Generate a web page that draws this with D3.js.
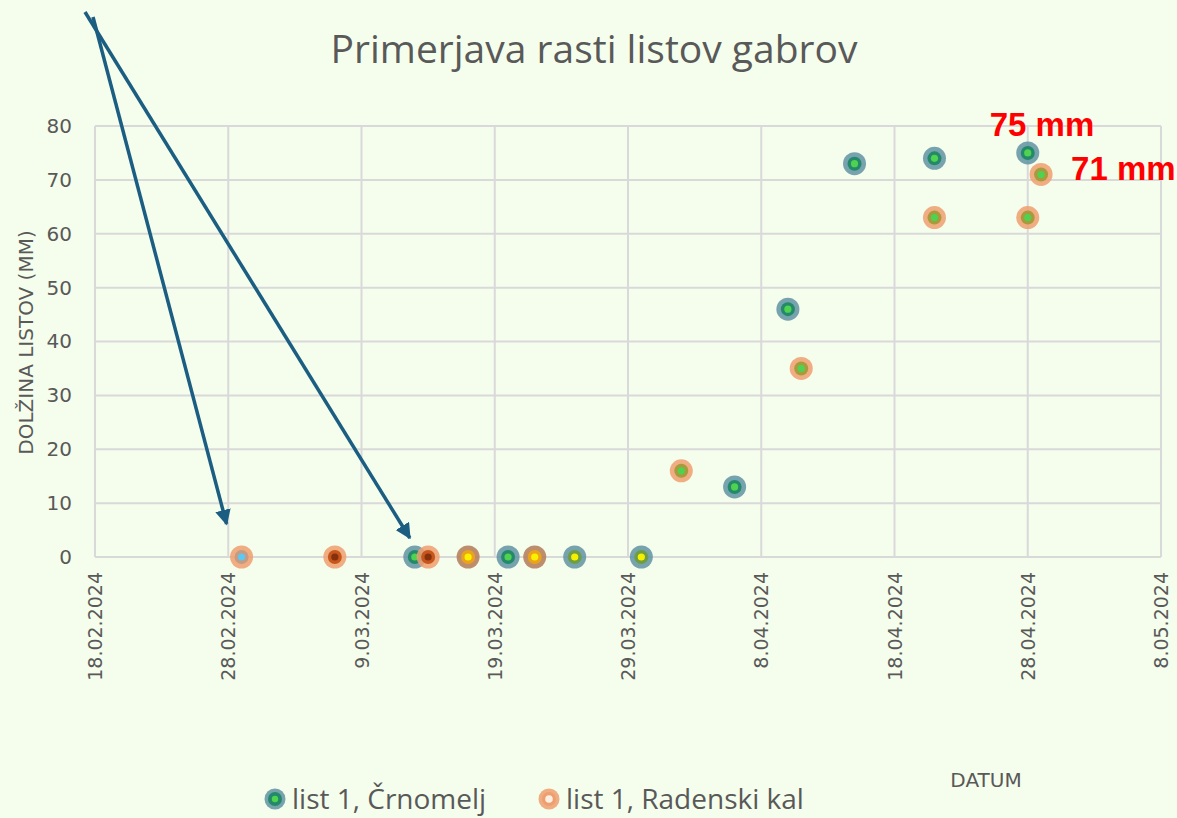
<!DOCTYPE html>
<html>
<head>
<meta charset="utf-8">
<script src="https://cdn.jsdelivr.net/npm/d3@7"></script>
<style>
  html, body { margin: 0; padding: 0; background: #f5fdec; }
  svg { display: block; }
</style>
</head>
<body>
<div id="chart"></div>
<script>
// Data
const title = "Primerjava rasti listov gabrov"
const yTitle = "DOLŽINA LISTOV (MM)"
const xTitle = "DATUM"

const xTicks = ["2024-02-18", "2024-02-28", "2024-03-09", "2024-03-19", "2024-03-29",
                "2024-04-08", "2024-04-18", "2024-04-28", "2024-05-08"]
const yTicks = [0, 10, 20, 30, 40, 50, 60, 70, 80]

const crnName = "list 1, Črnomelj"
const crnDates = ["2024-03-13", "2024-03-20", "2024-03-25", "2024-03-30", "2024-04-06",
                  "2024-04-10", "2024-04-15", "2024-04-21", "2024-04-28"]
const crnValues = [0, 0, 0, 0, 13, 46, 73, 74, 75]
const crnStage = ["leaf", "leaf", "flower", "flower", "leaf", "leaf", "leaf", "leaf", "leaf"]

const radName = "list 1, Radenski kal"
const radDates = ["2024-02-29", "2024-03-07", "2024-03-14", "2024-03-17", "2024-03-22",
                  "2024-04-02", "2024-04-11", "2024-04-21", "2024-04-28", "2024-04-29"]
const radValues = [0, 0, 0, 0, 0, 16, 35, 63, 63, 71]
const radStage = ["bud", "dormant", "dormant", "flower", "flower", "leaf", "leaf", "leaf", "leaf", "leaf"]

const labels = [
  { series: "crn", index: 8, text: "75 mm", dx: -38, dy: -17 },
  { series: "rad", index: 9, text: "71 mm", dx: 30, dy: 6 },
]

const width = 1177
const height = 818
const margin = { top: 126, right: 16, bottom: 261, left: 95 }

const parse = d3.utcParse("%Y-%m-%d")
const fmt = d3.utcFormat("%-d.%m.%Y")

// marker palettes: [outer ring, inner disc, centre dot]
const crnColors = {
  leaf:   ["#5f93a3", "#24896a", "#4fd250"],
  flower: ["#5f93a3", "#6f9d45", "#f4f000"],
}
const radColors = {
  bud:     ["#ee9f70", "#c59b84", "#5cc9f2"],
  dormant: ["#ee9f70", "#c6561b", "#86300e"],
  flower:  ["#b27a58", "#eca31c", "#fbf000"],
  leaf:    ["#ee9f70", "#a99a3e", "#4fd250"],
}

const series = [
  { key: "crn", name: crnName, colors: crnColors,
    points: crnDates.map((d, i) => ({ date: parse(d), value: crnValues[i], stage: crnStage[i] })) },
  { key: "rad", name: radName, colors: radColors,
    points: radDates.map((d, i) => ({ date: parse(d), value: radValues[i], stage: radStage[i] })) },
]

const svg = d3.select("#chart").append("svg")
  .attr("width", width)
  .attr("height", height)
  .attr("viewBox", [0, 0, width, height])

svg.append("rect").attr("width", width).attr("height", height).attr("fill", "#f5fdec")

const x = d3.scaleUtc()
  .domain([parse(xTicks[0]), parse(xTicks[xTicks.length - 1])])
  .range([margin.left, width - margin.right])

const y = d3.scaleLinear()
  .domain([0, 80])
  .range([height - margin.bottom, margin.top])

const grey = "#d9d9d9"
const textColor = "#595959"

// grid
svg.append("g")
  .selectAll("line")
  .data(yTicks)
  .join("line")
    .attr("x1", x.range()[0]).attr("x2", x.range()[1])
    .attr("y1", d => y(d)).attr("y2", d => y(d))
    .attr("stroke", grey).attr("stroke-width", 2)

svg.append("g")
  .selectAll("line")
  .data(xTicks.map(parse))
  .join("line")
    .attr("x1", d => x(d)).attr("x2", d => x(d))
    .attr("y1", y(0)).attr("y2", y(80))
    .attr("stroke", grey).attr("stroke-width", 2)

// y axis
const yAxis = svg.append("g")
  .attr("transform", `translate(${margin.left},0)`)
  .call(d3.axisLeft(y).tickValues(yTicks).tickSize(0).tickPadding(23))
yAxis.select(".domain").remove()
yAxis.selectAll("text")
  .attr("fill", textColor)
  .attr("font-family", "DejaVu Sans, sans-serif")
  .attr("font-size", 20)

// x axis
const xAxis = svg.append("g")
  .attr("transform", `translate(0,${y(0)})`)
  .call(d3.axisBottom(x).tickValues(xTicks.map(parse)).tickFormat(fmt).tickSize(0))
xAxis.select(".domain").remove()
xAxis.selectAll("text")
  .attr("fill", textColor)
  .attr("font-family", "DejaVu Sans, sans-serif")
  .attr("font-size", 19)
  .attr("text-anchor", "end")
  .attr("transform", "rotate(-90)")
  .attr("x", -15)
  .attr("y", 0)
  .attr("dy", "0.35em")

// titles
svg.append("text")
  .attr("x", 594).attr("y", 63)
  .attr("text-anchor", "middle")
  .attr("fill", textColor)
  .attr("font-family", "Open Sans, sans-serif")
  .attr("font-size", 39)
  .text(title)

svg.append("text")
  .attr("transform", `translate(33,${(y(0) + y(80)) / 2 + 1}) rotate(-90)`)
  .attr("text-anchor", "middle")
  .attr("fill", textColor)
  .attr("font-family", "DejaVu Sans, sans-serif")
  .attr("font-size", 20)
  .text(yTitle)

svg.append("text")
  .attr("x", 986).attr("y", 787)
  .attr("text-anchor", "middle")
  .attr("fill", textColor)
  .attr("font-family", "DejaVu Sans, sans-serif")
  .attr("font-size", 20)
  .text(xTitle)

// markers
function drawMarker(g, c, r) {
  g.append("circle").attr("r", r[0]).attr("fill", c[0]).attr("fill-opacity", 0.85)
  g.append("circle").attr("r", r[1]).attr("fill", c[1])
  g.append("circle").attr("r", r[2]).attr("fill", c[2])
}

for (const s of series) {
  svg.append("g")
    .selectAll("g")
    .data(s.points)
    .join("g")
      .attr("transform", d => `translate(${x(d.date)},${y(d.value)})`)
      .each(function(d) { drawMarker(d3.select(this), s.colors[d.stage], [11.5, 7, 3.6]) })
}

// value labels
for (const l of labels) {
  const p = series.find(s => s.key === l.series).points[l.index]
  svg.append("text")
    .attr("x", x(p.date) + l.dx)
    .attr("y", y(p.value) + l.dy)
    .attr("fill", "#ff0000")
    .attr("font-family", "Liberation Sans, Arial, sans-serif")
    .attr("font-weight", "bold")
    .attr("font-size", 33)
    .text(l.text)
}

// arrows
const arrowColor = "#1b5e82"
svg.append("defs").append("marker")
  .attr("id", "arrow")
  .attr("viewBox", "0 0 10 10")
  .attr("refX", 9).attr("refY", 5)
  .attr("markerWidth", 4.5).attr("markerHeight", 4.5)
  .attr("markerUnits", "strokeWidth")
  .attr("orient", "auto")
  .append("path")
    .attr("d", "M0,0 L10,5 L0,10 z")
    .attr("fill", arrowColor)

const arrows = [
  { from: [93, 17], to: series[1].points[0], dx: -15, dy: -33 },
  { from: [85, 12], to: series[0].points[0], dx: -5, dy: -19 },
]
svg.append("g")
  .selectAll("line")
  .data(arrows)
  .join("line")
    .attr("x1", d => d.from[0]).attr("y1", d => d.from[1])
    .attr("x2", d => x(d.to.date) + d.dx).attr("y2", d => y(d.to.value) + d.dy)
    .attr("stroke", arrowColor)
    .attr("stroke-width", 3.5)
    .attr("marker-end", "url(#arrow)")

// legend
const legend = svg.append("g").attr("transform", "translate(0,799)")
const legendItems = [
  { x: 275, name: crnName, colors: crnColors.leaf, r: [10.5, 7, 3.2] },
  { x: 549, name: radName, colors: ["#ee9f70", "#ee9f70", "#fbeee2"], r: [10.5, 7, 3.8] },
]
for (const item of legendItems) {
  const g = legend.append("g").attr("transform", `translate(${item.x},0)`)
  drawMarker(g, item.colors, item.r)
  legend.append("text")
    .attr("x", item.x + 17)
    .attr("y", 0)
    .attr("dy", "0.35em")
    .attr("fill", textColor)
    .attr("font-family", "Open Sans, sans-serif")
    .attr("font-size", 28)
    .text(item.name)
}
</script>
</body>
</html>
